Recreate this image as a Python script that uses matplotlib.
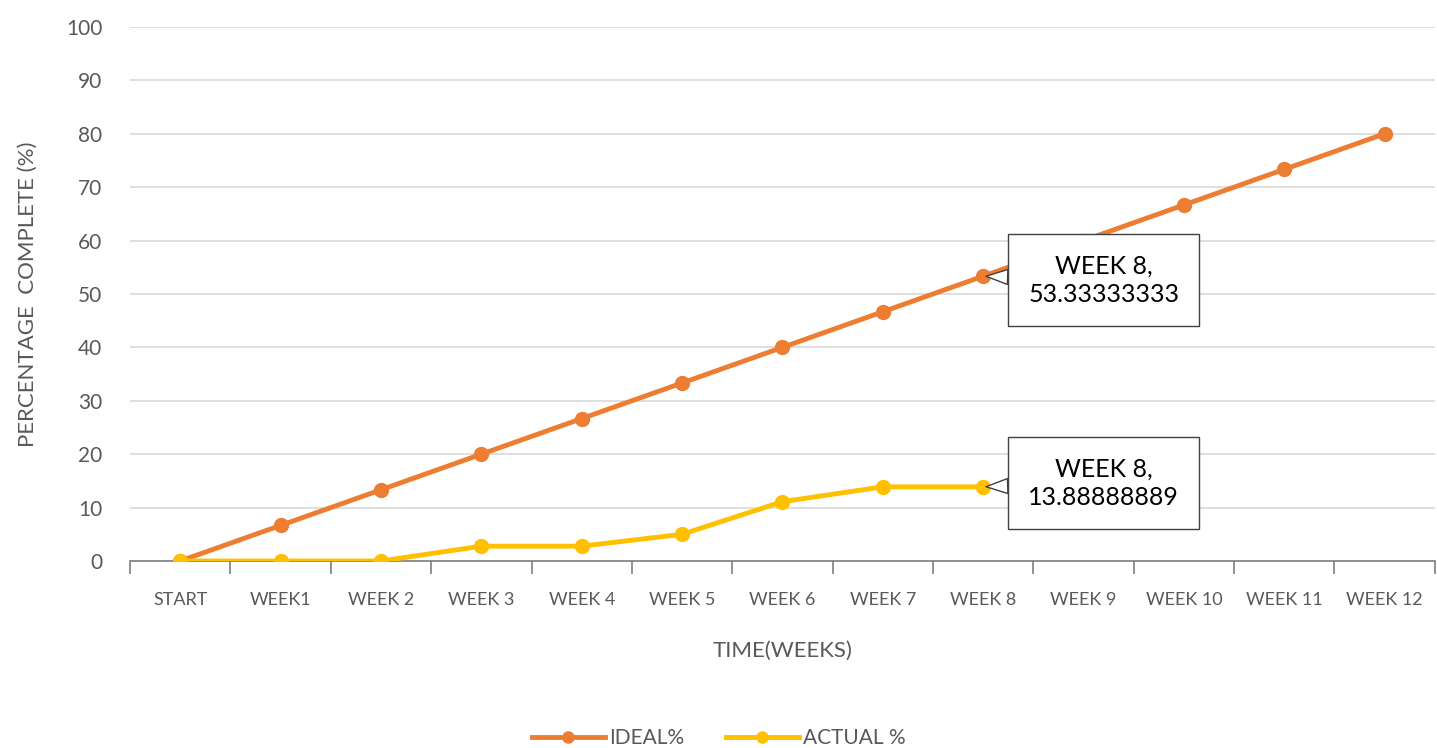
import matplotlib.pyplot as plt
import numpy as np

weeks = ['START', 'WEEK1', 'WEEK 2', 'WEEK 3', 'WEEK 4', 'WEEK 5', 'WEEK 6',
         'WEEK 7', 'WEEK 8', 'WEEK 9', 'WEEK 10', 'WEEK 11', 'WEEK 12']
ideal = [0, 6.666666667, 13.33333333, 20, 26.66666667, 33.33333333, 40,
         46.66666667, 53.33333333, 60, 66.66666667, 73.33333333, 80]
actual = [0, 0, 0, 2.777777778, 2.777777778, 5.0, 11.11111111,
          13.88888889, 13.88888889]

plt.rcParams['font.family'] = ['Lato', 'DejaVu Sans']

def plot_chart():
    fig = plt.figure(figsize=(14.37, 7.48), dpi=100)
    ax = fig.add_axes([0.0905, 0.25, 0.908, 0.714])

    x = np.arange(len(weeks))
    ax.plot(x, ideal, marker='o', color='#ED7D31', linewidth=3.5, markersize=10,
            label='IDEAL%', zorder=3)
    ax.plot(x[:len(actual)], actual, marker='o', color='#FFC000', linewidth=3.5,
            markersize=10, label='ACTUAL %', zorder=4)

    ax.set_xlim(-0.5, len(weeks) - 0.5)
    ax.set_ylim(0, 100)
    ax.set_yticks(np.arange(0, 101, 10))
    ax.set_xticks(x)
    ax.set_xticklabels(weeks, fontsize=13, color='#595959')
    ax.set_xticks(np.arange(-0.5, len(weeks)), minor=True)
    ax.tick_params(axis='x', which='major', length=0, pad=22)
    ax.tick_params(axis='x', which='minor', length=9, color='#7f7f7f', width=1.2, direction='out')
    ax.tick_params(axis='y', length=0, pad=20, labelsize=15, labelcolor='#595959')

    ax.grid(True, axis='y', color='#d9d9d9', linewidth=1.2)
    ax.set_axisbelow(True)
    for s in ['top', 'right', 'left']:
        ax.spines[s].set_visible(False)
    ax.spines['bottom'].set_color('#7f7f7f')
    ax.spines['bottom'].set_linewidth(1.2)

    ax.set_xlabel('TIME(WEEKS)', fontsize=16, color='#595959', labelpad=24)
    ax.set_ylabel('PERCENTAGE  COMPLETE (%)', fontsize=16, color='#595959', labelpad=20)

    # callouts
    box = dict(boxstyle='square,pad=0.8', fc='white', ec='#404040', lw=1)
    arrow = dict(arrowstyle='wedge,tail_width=0.6', fc='white', ec='#404040', lw=1,
                 shrinkA=0, shrinkB=2)
    ax.annotate('WEEK 8,\n53.33333333', xy=(8, ideal[8]), xytext=(9.2, 52.6),
                ha='center', va='center', fontsize=18, color='black',
                bbox=box, arrowprops=arrow, zorder=6, linespacing=1.3)
    ax.annotate('WEEK 8,\n13.88888889', xy=(8, actual[8]), xytext=(9.2, 14.6),
                ha='center', va='center', fontsize=18, color='black',
                bbox=box, arrowprops=arrow, zorder=6, linespacing=1.3)

    fig.legend(loc='lower center', bbox_to_anchor=(0.5, -0.025), ncol=2, frameon=False,
               fontsize=15, handlelength=3.5, labelcolor='#595959', columnspacing=2,
               handletextpad=0.2, markerscale=0.8)

    fig.savefig('out.png', dpi=100)

if __name__ == "__main__":
    plot_chart()
